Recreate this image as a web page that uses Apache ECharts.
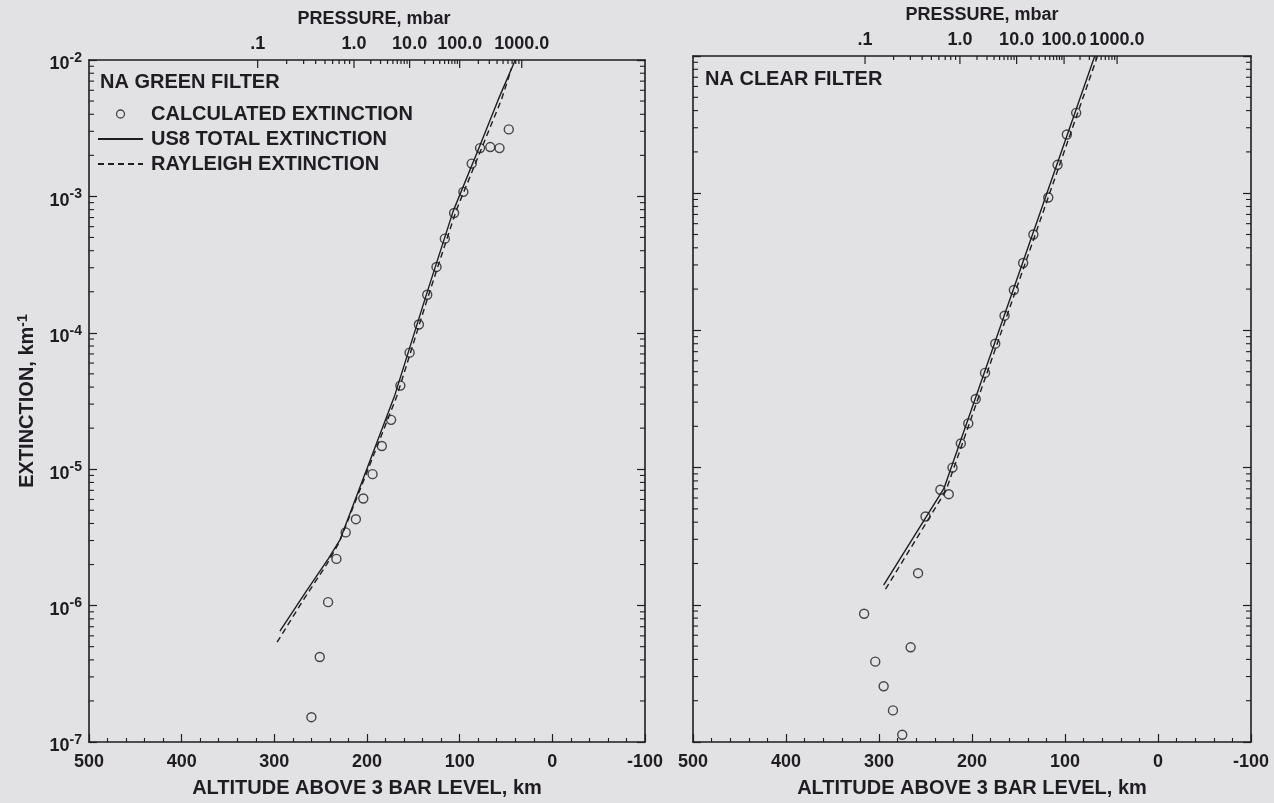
<!DOCTYPE html>
<html>
<head>
<meta charset="utf-8">
<title>NA filter extinction profiles</title>
<script src="https://cdn.jsdelivr.net/npm/echarts@6/dist/echarts.min.js"></script>
<style>
  html, body { margin: 0; padding: 0; background: #e2e1e3; }
  #chart { width: 1274px; height: 803px; }
</style>
</head>
<body>
<div id="chart"></div>
<script>
// Altitude axis (km above the 3 bar level) and extinction axis (km^-1)
const altitudeRange = [-100, 500];
const extinctionRange = [1e-7, 1e-2];

// Pressure scale along the top edge: labelled decades and the altitude each sits at
const pressureLabels = ['.1', '1.0', '10.0', '100.0', '1000.0'];
const pressureValues = [0.1, 1, 10, 100, 1000];
const greenPressureAltitudes = [318, 214, 154, 100, 33];
const clearPressureAltitudes = [315, 213, 152, 101, 44];

// NA green filter: [altitude km, extinction km^-1]
const greenCalculated = [
  [47, 3.1e-3], [57, 2.26e-3], [67, 2.3e-3], [78, 2.26e-3], [87, 1.74e-3],
  [96, 1.08e-3], [106, 7.55e-4], [116, 4.9e-4], [125, 3.04e-4], [135, 1.9e-4],
  [144, 1.15e-4], [154, 7.15e-5], [164, 4.1e-5], [174, 2.3e-5], [184, 1.48e-5],
  [194, 9.2e-6], [204, 6.1e-6], [212, 4.3e-6], [223, 3.44e-6], [233, 2.2e-6],
  [242, 1.06e-6], [251, 4.2e-7], [260, 1.52e-7]
];
const greenTotal = [
  [294, 6.5e-7], [266, 1.26e-6], [242, 2.19e-6], [229, 3.05e-6], [170, 3.49e-5],
  [136.5, 1.85e-4], [107, 7.8e-4], [78, 2.37e-3], [58.5, 5.1e-3], [40, 1e-2]
];
const greenRayleigh = [
  [297, 5.4e-7], [268, 1.12e-6], [244, 1.98e-6], [230, 2.9e-6], [168, 3.4e-5],
  [134, 1.85e-4], [104, 7.8e-4], [75, 2.37e-3], [55, 5.1e-3], [44, 8.7e-3]
];

// NA clear filter
const clearCalculated = [
  [88, 3.85e-3], [98, 2.68e-3], [108, 1.61e-3], [118, 9.3e-4], [134, 5.0e-4],
  [145, 3.1e-4], [155, 1.97e-4], [165, 1.28e-4], [175, 8.0e-5], [186, 4.9e-5],
  [196, 3.16e-5], [204, 2.1e-5], [212, 1.5e-5], [221, 1.0e-5], [234, 6.9e-6],
  [225, 6.4e-6], [250, 4.4e-6], [258, 1.7e-6], [316, 8.6e-7], [266, 4.9e-7],
  [304, 3.85e-7], [295, 2.55e-7], [285, 1.7e-7], [275, 1.13e-7]
];
const clearTotal = [[295, 1.39e-6], [230, 7.1e-6], [68, 1e-2]];
const clearRayleigh = [[293, 1.3e-6], [228, 6.8e-6], [65, 1e-2]];

const INK = '#1f1d22';
const FONT = '"Liberation Sans", Arial, Helvetica, sans-serif';
const textBase = { color: INK, fontFamily: FONT, fontWeight: 'bold' };

// Altitude of any pressure, read log-linearly between the labelled decades
function pressureToAltitude(p, altitudes) {
  const lp = Math.log10(p);
  for (let i = 0; i < pressureValues.length - 1; i++) {
    const a = Math.log10(pressureValues[i]);
    const b = Math.log10(pressureValues[i + 1]);
    if (lp >= a - 1e-9 && lp <= b + 1e-9) {
      const t = (lp - a) / (b - a);
      return altitudes[i] + t * (altitudes[i + 1] - altitudes[i]);
    }
  }
  return null;
}

// [altitude, isMajor] for every pressure tick of one panel
function pressureTicksFor(altitudes) {
  const ticks = [];
  pressureValues.forEach((p, i) => {
    ticks.push([pressureToAltitude(p, altitudes), 1]);
    if (i < pressureValues.length - 1) {
      for (let k = 2; k <= 9; k++) ticks.push([pressureToAltitude(p * k, altitudes), 0]);
    }
  });
  return ticks;
}
function pressureLabelsFor(altitudes) {
  return pressureValues.map((p, i) => [pressureToAltitude(p, altitudes), i]);
}

// Minor log ticks (2..9 per decade) on both vertical edges of a panel
const edgeTicks = [];
for (let e = -7; e < -2; e++) {
  for (let k = 2; k <= 9; k++) {
    const v = k * Math.pow(10, e);
    edgeTicks.push([altitudeRange[1], v]);
    edgeTicks.push([altitudeRange[0], v]);
  }
}

function renderPressureTick(params, api) {
  const p = api.coord([api.value(0), extinctionRange[1]]);
  const len = api.value(1) ? 8 : 4;
  return {
    type: 'line',
    shape: { x1: p[0], y1: p[1], x2: p[0], y2: p[1] + len },
    style: { stroke: INK, lineWidth: 1.2 }
  };
}

function renderPressureLabel(params, api) {
  const p = api.coord([api.value(0), extinctionRange[1]]);
  return {
    type: 'text',
    x: p[0],
    y: p[1] - 7,
    style: {
      text: pressureLabels[api.value(1)],
      fill: INK,
      fontSize: 18,
      fontWeight: 'bold',
      fontFamily: FONT,
      align: 'center',
      verticalAlign: 'bottom'
    }
  };
}

function renderEdgeTick(params, api) {
  const side = api.value(0);
  const p = api.coord([side, api.value(1)]);
  const dir = side > 200 ? 1 : -1;
  return {
    type: 'line',
    shape: { x1: p[0], y1: p[1], x2: p[0] + dir * 5, y2: p[1] },
    style: { stroke: INK, lineWidth: 1.1 }
  };
}

function bottomAxis(g) {
  return {
    type: 'value', gridIndex: g, position: 'bottom', inverse: true,
    min: altitudeRange[0], max: altitudeRange[1], interval: 100,
    axisLine: { onZero: false, lineStyle: { color: INK, width: 1.6 } },
    axisTick: { inside: true, length: 8, lineStyle: { color: INK, width: 1.2 } },
    minorTick: { show: true, splitNumber: 5, length: 4, lineStyle: { color: INK, width: 1.1 } },
    splitLine: { show: false },
    axisLabel: Object.assign({ fontSize: 18, margin: 11 }, textBase),
    name: 'ALTITUDE ABOVE 3 BAR LEVEL, km',
    nameLocation: 'middle', nameGap: 36,
    nameTextStyle: Object.assign({ fontSize: 20 }, textBase)
  };
}

function topAxis(g) {
  return {
    type: 'value', gridIndex: g, position: 'top', inverse: true,
    min: altitudeRange[0], max: altitudeRange[1], interval: 100,
    axisLine: { onZero: false, lineStyle: { color: INK, width: 1.6 } },
    axisTick: { show: false }, axisLabel: { show: false }, splitLine: { show: false },
    name: 'PRESSURE, mbar',
    nameLocation: 'middle', nameGap: 32,
    nameTextStyle: Object.assign({ fontSize: 18, padding: [0, 0, 0, g ? 20 : 14] }, textBase)
  };
}

function sideAxis(g, position, withLabels) {
  const axis = {
    type: 'log', logBase: 10, gridIndex: g, position: position,
    min: extinctionRange[0], max: extinctionRange[1],
    axisLine: { onZero: false, lineStyle: { color: INK, width: 1.6 } },
    axisTick: { inside: true, length: 8, lineStyle: { color: INK, width: 1.2 } },
    splitLine: { show: false },
    axisLabel: { show: false }
  };
  if (withLabels) {
    axis.axisLabel = {
      show: true, margin: 7,
      formatter: v => '{b|10}{s|' + Math.round(Math.log10(v)) + '}',
      rich: {
        b: Object.assign({ fontSize: 18, padding: [9, 0, 0, 0] }, textBase),
        s: Object.assign({ fontSize: 14, padding: [0, 0, 4, 0] }, textBase)
      }
    };
    axis.name = 'EXTINCTION, km{s|-1}';
    axis.nameLocation = 'middle';
    axis.nameGap = 50;
    axis.nameRotate = 90;
    axis.nameTextStyle = Object.assign({
      fontSize: 20,
      rich: { s: Object.assign({ fontSize: 14, padding: [0, 0, 9, 0] }, textBase) }
    }, textBase);
  }
  return axis;
}

function panelSeries(g, calc, total, rayleigh, pressureAltitudes) {
  const xi = g * 2, yi = g * 2;
  return [
    {
      name: 'CALCULATED EXTINCTION', type: 'scatter', xAxisIndex: xi, yAxisIndex: yi,
      data: calc, symbol: 'circle', symbolSize: 9,
      itemStyle: { color: 'rgba(0,0,0,0)', borderColor: INK, borderWidth: 1.4 },
      z: 4
    },
    {
      name: 'US8 TOTAL EXTINCTION', type: 'line', xAxisIndex: xi, yAxisIndex: yi,
      data: total, symbol: 'none', showSymbol: false,
      itemStyle: { color: INK },
      lineStyle: { color: INK, width: 1.4 }, z: 3
    },
    {
      name: 'RAYLEIGH EXTINCTION', type: 'line', xAxisIndex: xi, yAxisIndex: yi,
      data: rayleigh, symbol: 'none', showSymbol: false,
      itemStyle: { color: INK },
      lineStyle: { color: INK, width: 1.4, type: [6, 4] }, z: 3
    },
    {
      type: 'custom', xAxisIndex: xi, yAxisIndex: yi, data: pressureTicksFor(pressureAltitudes),
      renderItem: renderPressureTick, clip: false, silent: true, z: 5
    },
    {
      type: 'custom', xAxisIndex: xi, yAxisIndex: yi, data: pressureLabelsFor(pressureAltitudes),
      renderItem: renderPressureLabel, clip: false, silent: true, z: 5
    },
    {
      type: 'custom', xAxisIndex: xi, yAxisIndex: yi, data: edgeTicks,
      renderItem: renderEdgeTick, clip: false, silent: true, z: 5
    }
  ];
}

const chart = echarts.init(document.getElementById('chart'), null, { renderer: 'canvas' });
chart.setOption({
  backgroundColor: '#e2e1e3',
  animation: false,
  title: [
    { text: 'NA GREEN FILTER', left: 100, top: 72, padding: 0,
      textStyle: Object.assign({ fontSize: 20 }, textBase) },
    { text: 'NA CLEAR FILTER', left: 705, top: 69, padding: 0,
      textStyle: Object.assign({ fontSize: 20 }, textBase) }
  ],
  legend: {
    orient: 'vertical', left: 97, top: 104, padding: 0,
    itemWidth: 45, itemHeight: 8, itemGap: 5, selectedMode: false,
    data: [
      { name: 'CALCULATED EXTINCTION', icon: 'circle',
        itemStyle: { color: 'rgba(0,0,0,0)', borderColor: INK, borderWidth: 1.3 } },
      { name: 'US8 TOTAL EXTINCTION', itemStyle: { opacity: 0 } },
      { name: 'RAYLEIGH EXTINCTION', itemStyle: { opacity: 0 } }
    ],
    textStyle: Object.assign({ fontSize: 20, padding: [0, 0, 0, 3] }, textBase)
  },
  grid: [
    { left: 89, top: 60, width: 556, height: 692 },
    { left: 693, top: 56, width: 558, height: 692 }
  ],
  xAxis: [bottomAxis(0), topAxis(0), bottomAxis(1), topAxis(1)],
  yAxis: [sideAxis(0, 'left', true), sideAxis(0, 'right', false),
          sideAxis(1, 'left', false), sideAxis(1, 'right', false)],
  series: [].concat(
    panelSeries(0, greenCalculated, greenTotal, greenRayleigh, greenPressureAltitudes),
    panelSeries(1, clearCalculated, clearTotal, clearRayleigh, clearPressureAltitudes)
  )
});
</script>
</body>
</html>
